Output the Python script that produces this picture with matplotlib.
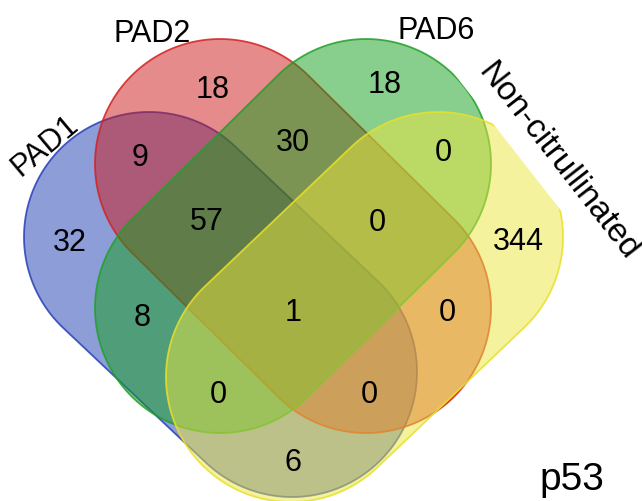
import numpy as np
import matplotlib.pyplot as plt
from matplotlib.patches import Polygon

plt.rcParams['font.family'] = ['Liberation Sans', 'DejaVu Sans']

# sets, drawn in this order (later ones on top)
set_names = ['PAD1', 'PAD2', 'PAD6', 'Non-citrullinated']
fill_colors = ['#1a3cb0', '#cc1818', '#139e1c', '#ece63f']
edge_colors = ['#2840b8', '#d42222', '#22a02a', '#e8e02a']

# region counts; key = membership in (PAD1, PAD2, PAD6, Non-citrullinated)
region_keys = ['1000', '0100', '0010', '0001',
               '1100', '0110', '0011', '1010', '0101', '1001',
               '1110', '0111', '1011', '1101', '1111']
region_counts = [32, 18, 18, 344,
                 9, 30, 0, 8, 0, 6,
                 57, 0, 0, 0, 1]
title = 'p53'

# stadium geometry (pixel space): two end-circle centres and radius
shape_ends = {
    'PAD1': ((149, 238), (292, 373)),
    'PAD2': ((220, 165), (366, 309)),
    'PAD6': ((366, 165), (220, 309)),
    'Non-citrullinated': ((438, 238), (291, 378)),
}
radius = 125

# where each region count is written
region_pos = {
    '1000': (70, 243), '0100': (213, 90), '0010': (385, 85), '0001': (518, 242),
    '1100': (140, 158), '0110': (293, 143), '0011': (443, 153), '1010': (142, 318),
    '0101': (447, 313), '1001': (293, 463), '1110': (207, 222), '0111': (377, 223),
    '1011': (218, 395), '1101': (369, 395), '1111': (293, 313),
}


def stadium(p1, p2, r, n=120):
    p1 = np.asarray(p1, float)
    p2 = np.asarray(p2, float)
    ang = np.arctan2(p2[1] - p1[1], p2[0] - p1[0])
    a1 = np.linspace(ang + np.pi / 2, ang + 3 * np.pi / 2, n)
    a2 = np.linspace(ang - np.pi / 2, ang + np.pi / 2, n)
    pts1 = p1 + r * np.column_stack([np.cos(a1), np.sin(a1)])
    pts2 = p2 + r * np.column_stack([np.cos(a2), np.sin(a2)])
    return np.vstack([pts1, pts2])


fig = plt.figure(figsize=(6.42, 5.02), dpi=100)
ax = fig.add_axes([0, 0, 1, 1])
ax.set_xlim(0, 642)
ax.set_ylim(502, 0)
ax.axis('off')

for name, fc, ec in zip(set_names, fill_colors, edge_colors):
    p1, p2 = shape_ends[name]
    pts = stadium(p1, p2, radius)
    ax.add_patch(Polygon(pts, closed=True, facecolor=fc, alpha=0.5, edgecolor='none'))
    ax.add_patch(Polygon(pts, closed=True, facecolor='none', edgecolor=ec, lw=1.3, alpha=0.85))

for key, count in zip(region_keys, region_counts):
    x, y = region_pos[key]
    ax.text(x, y, str(count), fontsize=22, ha='center', va='center', zorder=5)

# set labels
ax.text(45, 146, set_names[0], fontsize=22, rotation=40, ha='center', va='center', zorder=6)
ax.text(152, 34, set_names[1], fontsize=22, ha='center', va='center', zorder=6)
ax.text(436, 31, set_names[2], fontsize=22, ha='center', va='center', zorder=6)
ax.text(558, 162, set_names[3], fontsize=24, rotation=-52, ha='center', va='center',
        rotation_mode='anchor', zorder=6,
        bbox=dict(boxstyle='square,pad=0.38', fc='white', ec='none'))

ax.text(572, 480, title, fontsize=28, ha='center', va='center', zorder=6)

fig.savefig('out.png', dpi=100)
